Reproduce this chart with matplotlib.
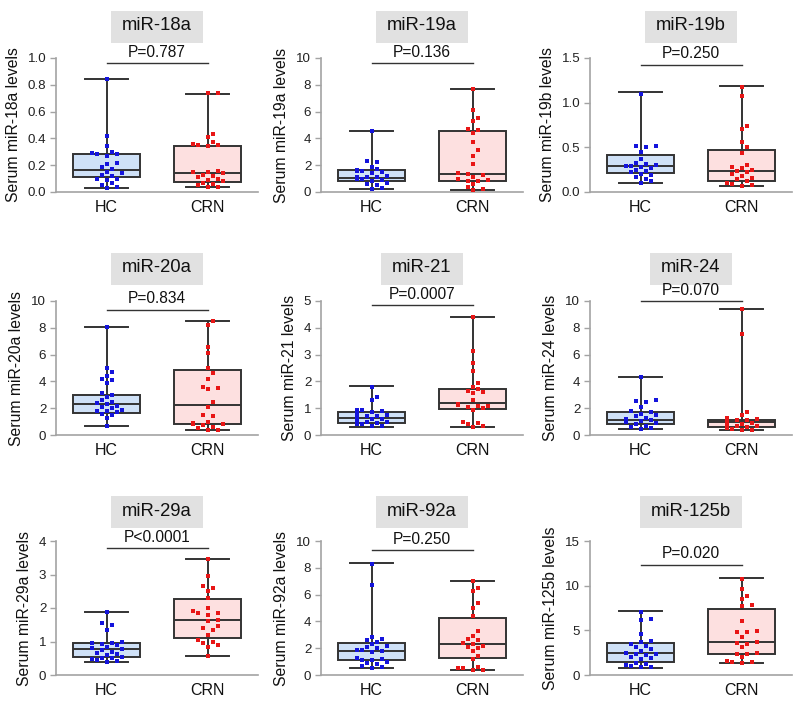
"""
Serum miRNA levels, HC vs CRN: 3x3 grid of box plots with the
individual samples drawn on top.
"""

import numpy as np
import matplotlib
matplotlib.use("Agg")
import matplotlib.pyplot as plt
from matplotlib.patches import Rectangle

plt.rcParams["font.family"] = ["Liberation Sans", "DejaVu Sans"]

MIRNAS  = ["miR-18a", "miR-19a", "miR-19b",
           "miR-20a", "miR-21", "miR-24",
           "miR-29a", "miR-92a", "miR-125b"]
PVALUES = ["P=0.787", "P=0.136", "P=0.250",
           "P=0.834", "P=0.0007", "P=0.070",
           "P<0.0001", "P=0.250", "P=0.020"]
GROUPS  = ["HC", "CRN"]

# y axis top and tick step per panel
Y_MAX   = [1.0, 10, 1.5, 10, 5, 10, 4, 10, 15]
Y_STEP  = [0.2, 2, 0.5, 2, 1, 2, 1, 2, 5]
Y_FMT   = ["%.1f", "%d", "%.1f", "%d", "%d", "%d", "%d", "%d", "%d"]
# height of the P-value bracket (data units)
BRACKET = [0.96, 9.6, 1.425, 9.35, 4.84, 10.0, 3.78, 9.34, 12.35]

# box stats: (whisker low, q1, median, q3, whisker high)
HC_BOX = [
    (0.03, 0.11, 0.163, 0.28, 0.846),
    (0.20, 0.80, 1.04, 1.62, 4.55),
    (0.10, 0.213, 0.295, 0.418, 1.12),
    (0.68, 1.65, 2.30, 3.00, 8.05),
    (0.31, 0.45, 0.62, 0.84, 1.81),
    (0.45, 0.84, 1.12, 1.70, 4.35),
    (0.40, 0.527, 0.766, 0.965, 1.87),
    (0.55, 1.12, 1.82, 2.41, 8.33),
    (0.82, 1.50, 2.51, 3.56, 7.12),
]
CRN_BOX = [
    (0.041, 0.073, 0.139, 0.342, 0.734),
    (0.17, 0.82, 1.37, 4.55, 7.70),
    (0.063, 0.123, 0.235, 0.466, 1.19),
    (0.35, 0.80, 2.25, 4.88, 8.50),
    (0.29, 0.96, 1.18, 1.71, 4.40),
    (0.37, 0.57, 0.94, 1.14, 9.38),
    (0.58, 1.10, 1.63, 2.27, 3.46),
    (0.37, 1.29, 2.29, 4.23, 7.00),
    (1.31, 2.40, 3.71, 7.34, 10.9),
]

# individual sample values
HC_PTS = [
    [0.846, 0.42, 0.34, 0.30, 0.29, 0.29, 0.28, 0.28, 0.27, 0.22, 0.21, 0.19,
     0.17, 0.15, 0.14, 0.13, 0.12, 0.10, 0.10, 0.09, 0.07, 0.05, 0.04, 0.03],
    [4.55, 2.35, 2.25, 1.9, 1.7, 1.65, 1.6, 1.6, 1.5, 1.45, 1.2, 1.15, 1.1,
     1.1, 1.05, 1.0, 0.95, 0.9, 0.85, 0.7, 0.6, 0.5, 0.3, 0.2],
    [1.10, 0.52, 0.51, 0.50, 0.45, 0.37, 0.33, 0.31, 0.30, 0.29, 0.29, 0.28,
     0.27, 0.25, 0.23, 0.22, 0.20, 0.19, 0.17, 0.15, 0.12, 0.10],
    [8.05, 5.0, 4.7, 4.4, 4.2, 4.1, 3.9, 3.1, 3.0, 2.8, 2.6, 2.5, 2.4, 2.3,
     2.2, 2.1, 2.0, 1.9, 1.8, 1.8, 1.7, 1.6, 1.5, 1.3, 0.7],
    [1.8, 1.4, 1.3, 0.95, 0.92, 0.9, 0.85, 0.8, 0.78, 0.75, 0.72, 0.7, 0.65,
     0.62, 0.6, 0.58, 0.55, 0.5, 0.48, 0.45, 0.42, 0.4, 0.35, 0.32],
    [4.35, 2.6, 2.55, 2.5, 2.1, 1.8, 1.75, 1.6, 1.5, 1.4, 1.3, 1.2, 1.15, 1.1,
     1.05, 1.0, 1.0, 0.95, 0.9, 0.85, 0.7, 0.6, 0.5, 0.45],
    [1.87, 1.55, 1.5, 1.35, 1.0, 0.97, 0.95, 0.93, 0.9, 0.85, 0.8, 0.77, 0.75,
     0.7, 0.65, 0.62, 0.6, 0.55, 0.52, 0.5, 0.48, 0.45, 0.42, 0.4],
    [8.3, 6.7, 2.8, 2.7, 2.6, 2.5, 2.3, 2.2, 2.1, 2.0, 1.9, 1.85, 1.8, 1.7,
     1.3, 1.25, 1.2, 1.15, 1.1, 1.0, 0.9, 0.8, 0.7, 0.6, 0.55],
    [7.1, 6.3, 6.2, 4.6, 3.8, 3.7, 3.5, 3.3, 3.1, 2.9, 2.7, 2.5, 2.4, 2.3,
     2.2, 2.0, 1.9, 1.8, 1.3, 1.2, 1.1, 1.0, 0.9, 0.85],
]
CRN_PTS = [
    [0.74, 0.74, 0.43, 0.41, 0.37, 0.36, 0.35, 0.35, 0.34, 0.16, 0.15, 0.15,
     0.14, 0.13, 0.12, 0.11, 0.10, 0.09, 0.08, 0.07, 0.06, 0.05, 0.04, 0.04],
    [7.7, 6.15, 5.5, 5.3, 4.7, 4.6, 4.4, 3.7, 3.1, 2.7, 2.1, 1.4, 1.35, 1.25,
     1.1, 1.0, 0.95, 0.9, 0.85, 0.8, 0.6, 0.4, 0.25, 0.17],
    [1.18, 1.07, 0.74, 0.70, 0.56, 0.50, 0.44, 0.30, 0.28, 0.27, 0.25, 0.24,
     0.22, 0.20, 0.18, 0.16, 0.14, 0.12, 0.10, 0.09, 0.08, 0.07],
    [8.5, 8.2, 6.6, 6.1, 5.0, 4.6, 4.2, 3.6, 3.5, 3.4, 2.5, 2.1, 1.5, 1.4,
     1.0, 0.9, 0.85, 0.8, 0.75, 0.6, 0.5, 0.4, 0.35],
    [4.4, 3.15, 2.7, 2.4, 1.95, 1.8, 1.7, 1.65, 1.6, 1.55, 1.3, 1.15, 1.12,
     1.1, 1.1, 1.05, 1.0, 0.95, 0.5, 0.45, 0.4, 0.35, 0.3],
    [9.4, 7.5, 1.7, 1.5, 1.3, 1.2, 1.15, 1.1, 1.05, 1.0, 1.0, 0.95, 0.9,
     0.85, 0.8, 0.75, 0.7, 0.65, 0.6, 0.55, 0.5, 0.45, 0.4, 0.37],
    [3.45, 2.95, 2.65, 2.6, 2.5, 2.3, 2.0, 1.9, 1.85, 1.85, 1.8, 1.65, 1.6,
     1.45, 1.4, 1.35, 1.2, 1.05, 1.0, 0.95, 0.9, 0.85, 0.58],
    [7.0, 6.5, 6.3, 5.4, 5.0, 4.4, 3.3, 2.9, 2.7, 2.6, 2.4, 2.3, 2.2, 2.1,
     2.0, 1.8, 1.4, 1.2, 0.6, 0.55, 0.5, 0.4, 0.37],
    [10.7, 9.6, 8.8, 8.5, 7.8, 7.7, 6.1, 4.9, 4.8, 4.8, 4.2, 3.7, 3.6, 3.5,
     3.1, 2.5, 2.4, 2.3, 2.0, 1.6, 1.5, 1.4, 1.3],
]

BOX_FACE  = {"HC": "#cfe1f7", "CRN": "#fde0e0"}
DOT_COLOR = {"HC": "#1414dc", "CRN": "#e81616"}
AXIS_GRAY = "#a3a3a3"
EDGE      = "#333333"

FIG_W, FIG_H = 800, 703
COL_LEFT = [56, 321, 590]        # px
ROW_TOP  = [58, 301, 541]        # px
AX_W, AX_H = 202, 134            # px
TITLE_OFF = [32, 33, 30]         # px above axes top, per row


def swarm_offsets(values, ymax, step=5.0, radius=5.5, max_k=3):
    """Beeswarm-style x offsets (data units) so dots don't sit on each other."""
    ypix = np.asarray(values) / ymax * AX_H
    order = np.argsort(ypix)
    placed = []
    offs = np.zeros(len(values))
    px_per_unit = AX_W / 2.0
    for i in order:
        cands = [0]
        for k in range(1, max_k + 1):
            cands += [k, -k]
        chosen = cands[-1] * step
        for c in cands:
            x = c * step
            if all((x - px) ** 2 + (ypix[i] - py) ** 2 >= radius ** 2
                   for px, py in placed):
                chosen = x
                break
        placed.append((chosen, ypix[i]))
        offs[i] = chosen / px_per_unit
    return offs


def draw_panel(ax, idx):
    ymax = Y_MAX[idx]
    stats = []
    for g, box in zip(GROUPS, (HC_BOX[idx], CRN_BOX[idx])):
        lo, q1, med, q3, hi = box
        stats.append({"whislo": lo, "q1": q1, "med": med, "q3": q3,
                      "whishi": hi, "fliers": [], "label": g})
    bp = ax.bxp(stats, positions=[0, 1], widths=0.66, patch_artist=True,
                showfliers=False,
                boxprops=dict(edgecolor=EDGE, linewidth=1.4),
                medianprops=dict(color=EDGE, linewidth=1.4),
                whiskerprops=dict(color=EDGE, linewidth=1.4),
                capprops=dict(color=EDGE, linewidth=1.4),
                capwidths=0.42)
    for patch, g in zip(bp["boxes"], GROUPS):
        patch.set_facecolor(BOX_FACE[g])
        patch.set_zorder(1)

    for pos, g, pts in ((0, "HC", HC_PTS[idx]), (1, "CRN", CRN_PTS[idx])):
        xo = swarm_offsets(pts, ymax)
        ax.scatter(pos + xo, pts, s=5, marker="s", color=DOT_COLOR[g],
                   linewidths=0, zorder=4, clip_on=False)

    # P-value bracket
    yb = BRACKET[idx]
    ax.plot([0, 1], [yb, yb], color=EDGE, linewidth=1.0, clip_on=False)
    ax.annotate(PVALUES[idx], xy=(0.5, yb), xytext=(0, 4.5),
                textcoords="offset points", ha="center", va="baseline",
                fontsize=11.2, color="#111111", annotation_clip=False)

    ax.set_xlim(-0.5, 1.5)
    ax.set_ylim(0, ymax)
    ticks = np.arange(0, ymax + 1e-9, Y_STEP[idx])
    ax.set_yticks(ticks)
    ax.set_yticklabels([Y_FMT[idx] % t for t in ticks])
    ax.set_xticks([0, 1])
    ax.set_xticklabels(GROUPS, fontsize=11.5)
    ax.tick_params(axis="x", length=0, pad=6, colors="#111111")
    ax.tick_params(axis="y", length=4, width=1, color=AXIS_GRAY,
                   labelsize=9.6, labelcolor="#222222", pad=3)
    for side in ("top", "right"):
        ax.spines[side].set_visible(False)
    for side in ("left", "bottom"):
        ax.spines[side].set_color(AXIS_GRAY)
        ax.spines[side].set_linewidth(1.2)
    ax.set_ylabel(f"Serum {MIRNAS[idx]} levels", fontsize=11.3,
                  color="#111111", labelpad=5)


def main():
    fig = plt.figure(figsize=(FIG_W / 100, FIG_H / 100), dpi=100)
    axes = []
    for idx in range(9):
        r, c = divmod(idx, 3)
        left = COL_LEFT[c] / FIG_W
        bottom = 1 - (ROW_TOP[r] + AX_H) / FIG_H
        ax = fig.add_axes([left, bottom, AX_W / FIG_W, AX_H / FIG_H])
        draw_panel(ax, idx)
        axes.append(ax)

    # grey title boxes sized to the text
    titles = []
    for idx, ax in enumerate(axes):
        r, c = divmod(idx, 3)
        cx = (COL_LEFT[c] + AX_W / 2) / FIG_W
        cy = 1 - (ROW_TOP[r] - TITLE_OFF[r]) / FIG_H
        t = fig.text(cx, cy, MIRNAS[idx], ha="center", va="center",
                     fontsize=13.3, color="#111111", zorder=5)
        titles.append((t, cx, cy))
    fig.canvas.draw()
    renderer = fig.canvas.get_renderer()
    for t, cx, cy in titles:
        bb = t.get_window_extent(renderer)
        w = bb.width + 22
        h = 32
        fig.patches.append(Rectangle(
            ((cx * FIG_W - w / 2) / FIG_W, (cy * FIG_H - h / 2 - 1) / FIG_H),
            w / FIG_W, h / FIG_H, transform=fig.transFigure,
            facecolor="#e1e1e1", edgecolor="none", zorder=-1))

    fig.savefig("out.png", dpi=100)
    plt.close(fig)


if __name__ == "__main__":
    main()
